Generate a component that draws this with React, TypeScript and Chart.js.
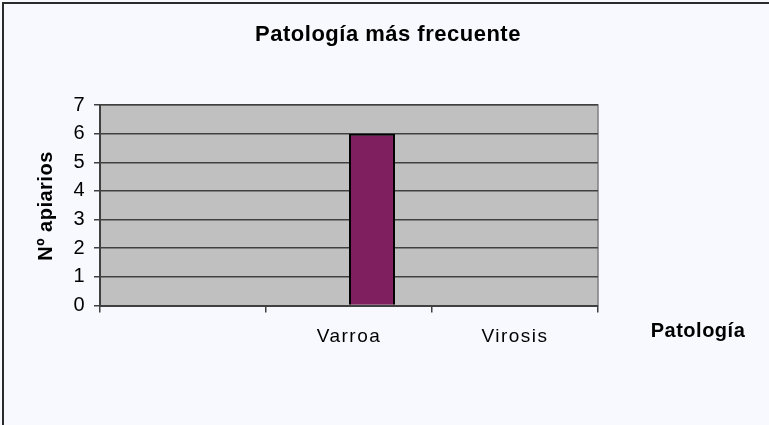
import React, { useEffect, useRef } from "react";
import { Chart, registerables } from "chart.js";

Chart.register(...registerables);

const categories = ["", "Varroa", "Virosis"];
const seriesA: (number | null)[] = [null, null, null];
const seriesB: (number | null)[] = [null, 6, null];
const yTicks = [0, 1, 2, 3, 4, 5, 6, 7];
const chartTitle = "Patología más frecuente";
const yTitle = "Nº apiarios";
const xTitle = "Patología";

const FONT = "'Liberation Sans', Arial, sans-serif";

const framePlugin = {
  id: "frame",
  beforeDraw(chart: any) {
    const { ctx, chartArea: a, width, height } = chart;
    ctx.save();
    ctx.fillStyle = "#F8F9FE";
    ctx.fillRect(0, 0, width, height);
    ctx.fillStyle = "#2b2b2b";
    ctx.fillRect(2, 2, width - 2, 2);
    ctx.fillRect(2, 2, 2, height - 2);
    ctx.fillStyle = "#C0C0C0";
    ctx.fillRect(a.left, a.top, a.right - a.left, a.bottom - a.top);
    ctx.strokeStyle = "#808080";
    ctx.lineWidth = 1.5;
    ctx.beginPath();
    ctx.moveTo(a.left, a.top);
    ctx.lineTo(a.right, a.top);
    ctx.lineTo(a.right, a.bottom);
    ctx.stroke();
    ctx.restore();
    ctx.letterSpacing = "1.5px";
  },
  afterDraw(chart: any) {
    const { ctx } = chart;
    ctx.save();
    ctx.fillStyle = "#000";
    ctx.textAlign = "center";
    ctx.textBaseline = "middle";
    ctx.letterSpacing = "0.5px";
    ctx.font = `bold 22px ${FONT}`;
    ctx.fillText(chartTitle, 388, 35);
    ctx.font = `bold 20px ${FONT}`;
    ctx.fillText(xTitle, 698, 331);
    ctx.translate(46, 206);
    ctx.rotate(-Math.PI / 2);
    ctx.fillText(yTitle, 0, 0);
    ctx.restore();
  },
};

export default function App() {
  const ref = useRef<HTMLCanvasElement>(null);
  useEffect(() => {
    document.body.style.margin = "0";
    const chart = new Chart(ref.current!, {
      type: "bar",
      data: {
        labels: categories,
        datasets: [
          { data: seriesA, backgroundColor: "#7F1F5F", borderColor: "#000", borderWidth: 2 },
          { data: seriesB, backgroundColor: "#7F1F5F", borderColor: "#000", borderWidth: 2 },
        ],
      },
      options: {
        animation: false,
        responsive: false,
        events: [],
        layout: { padding: { left: 0, top: 105, right: 171, bottom: 0 } },
        datasets: { bar: { categoryPercentage: 0.554, barPercentage: 1 } },
        plugins: { legend: { display: false }, tooltip: { enabled: false }, title: { display: false } },
        scales: {
          x: {
            offset: true,
            afterFit(axis: any) {
              axis.height = 119.5;
            },
            grid: {
              offset: true,
              drawOnChartArea: false,
              drawTicks: true,
              tickLength: 7,
              color: "#404040",
              lineWidth: 1.5,
            },
            border: { color: "#404040", width: 2 },
            ticks: { color: "#000", font: { family: FONT, size: 19 }, padding: 13 },
          },
          y: {
            min: 0,
            max: 7,
            afterFit(axis: any) {
              axis.width = 100;
            },
            afterBuildTicks(axis: any) {
              axis.ticks = yTicks.map((v) => ({ value: v }));
            },
            grid: { color: "#404040", lineWidth: 1.5, tickLength: 6 },
            border: { color: "#404040", width: 2 },
            ticks: { color: "#000", font: { family: FONT, size: 20 }, padding: 8, stepSize: 1 },
          },
        },
      },
      plugins: [framePlugin],
    });
    return () => chart.destroy();
  }, []);
  return (
    <div style={{ width: 769, height: 425 }}>
      <canvas ref={ref} width={769} height={425} style={{ display: "block" }} />
    </div>
  );
}
